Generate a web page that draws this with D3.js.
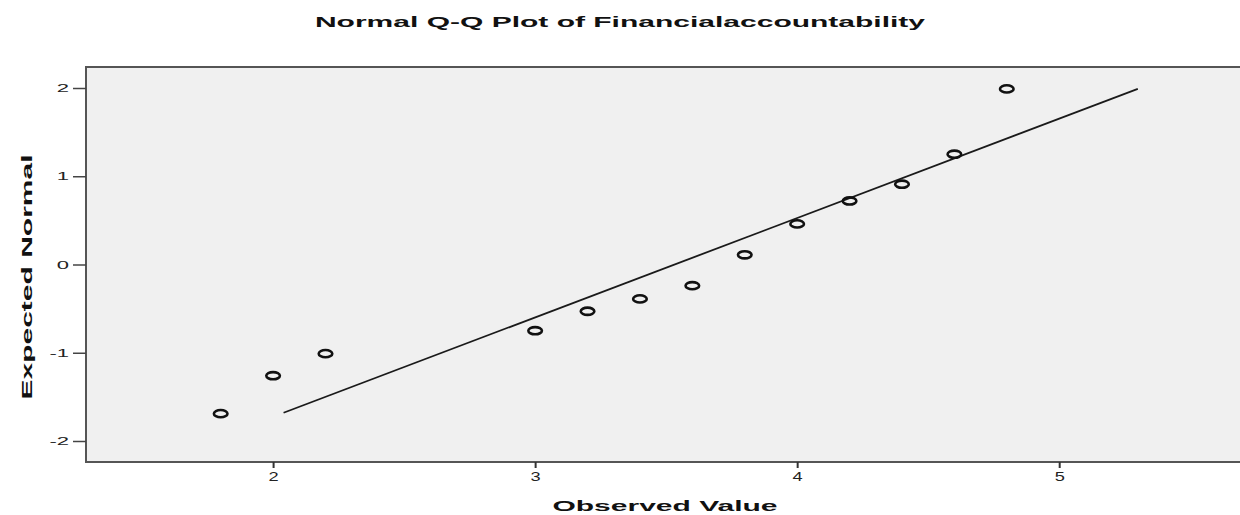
<!DOCTYPE html>
<html>
<head>
<meta charset="utf-8">
<script src="https://cdn.jsdelivr.net/npm/d3@7"></script>
<style>
  body { margin: 0; background: #fff; }
  svg { display: block; }
</style>
</head>
<body>
<div id="chart"></div>
<script>
// données
const observed = [1.8, 2.0, 2.2, 3.0, 3.2, 3.4, 3.6, 3.8, 4.0, 4.2, 4.4, 4.6, 4.8];
const expected = [-1.69, -1.26, -1.01, -0.75, -0.53, -0.39, -0.24, 0.11, 0.46, 0.72, 0.91, 1.25, 1.99];
const lineX = [2.04, 5.30];
const lineY = [-1.68, 1.99];
const xTicks = [2, 3, 4, 5];
const yTicks = [-2, -1, 0, 1, 2];

const width = 1240;
const height = 515;
const margin = { top: 67, right: 0, bottom: 53, left: 86 };

const svg = d3.select("#chart")
    .append("svg")
    .attr("width", width)
    .attr("height", height);

const x = d3.scaleLinear()
    .domain([1.286, 5.69])
    .range([margin.left, width - margin.right]);

const y = d3.scaleLinear()
    .domain([-2.238, 2.238])
    .range([height - margin.bottom, margin.top]);

// étire le texte dans le sens de la lecture (l'image d'origine est déformée)
function stretch(sel, k) {
    sel.each(function () {
        const w = this.getComputedTextLength();
        d3.select(this)
            .attr("textLength", w * k)
            .attr("lengthAdjust", "spacingAndGlyphs");
    });
}

// fond de la zone de tracé
svg.append("rect")
    .attr("x", margin.left)
    .attr("y", margin.top)
    .attr("width", width - margin.left + 10)
    .attr("height", height - margin.bottom - margin.top)
    .attr("fill", "#f0f0f0")
    .attr("stroke", "#555")
    .attr("stroke-width", 2);

// axe X
const gx = svg.append("g")
    .attr("transform", `translate(0,${height - margin.bottom})`)
    .call(d3.axisBottom(x).tickValues(xTicks).tickSize(6).tickPadding(4).tickFormat(d => String(d)));
gx.select(".domain").remove();
gx.selectAll("line").attr("stroke", "#333").attr("stroke-width", 2);
gx.selectAll("text")
    .attr("fill", "#222")
    .style("font-family", "'Liberation Sans', Arial, sans-serif")
    .style("font-size", "13px")
    .call(stretch, 1.4);

// axe Y
const gy = svg.append("g")
    .attr("transform", `translate(${margin.left},0)`)
    .call(d3.axisLeft(y).tickValues(yTicks).tickSize(13).tickPadding(4).tickFormat(d => String(d)));
gy.select(".domain").remove();
gy.selectAll("line").attr("stroke", "#444").attr("stroke-width", 1.5);
gy.selectAll("text")
    .attr("fill", "#222")
    .style("font-family", "'Liberation Sans', Arial, sans-serif")
    .style("font-size", "11px")
    .call(stretch, 2);

// droite de référence
svg.append("line")
    .attr("x1", x(lineX[0]))
    .attr("y1", y(lineY[0]))
    .attr("x2", x(lineX[1]))
    .attr("y2", y(lineY[1]))
    .attr("stroke", "#1a1a1a")
    .attr("stroke-width", 1.8);

// points
svg.selectAll("ellipse.pt")
    .data(observed)
    .join("ellipse")
    .attr("class", "pt")
    .attr("cx", d => x(d))
    .attr("cy", (d, i) => y(expected[i]))
    .attr("rx", 6.8)
    .attr("ry", 3.6)
    .attr("fill", "none")
    .attr("stroke", "#111")
    .attr("stroke-width", 2.6);

// titre
svg.append("text")
    .attr("x", width / 2)
    .attr("y", 27)
    .attr("text-anchor", "middle")
    .style("font-family", "'Liberation Sans', Arial, sans-serif")
    .style("font-size", "15px")
    .style("font-weight", "bold")
    .attr("fill", "#111")
    .text("Normal Q-Q Plot of Financialaccountability")
    .call(stretch, 2);

// titre de l'axe X
svg.append("text")
    .attr("x", 665)
    .attr("y", 511)
    .attr("text-anchor", "middle")
    .style("font-family", "'Liberation Sans', Arial, sans-serif")
    .style("font-size", "15px")
    .style("font-weight", "bold")
    .attr("fill", "#111")
    .text("Observed Value")
    .call(stretch, 2);

// titre de l'axe Y
svg.append("text")
    .attr("transform", "translate(32,277) rotate(-90)")
    .attr("text-anchor", "middle")
    .style("font-family", "'Liberation Sans', Arial, sans-serif")
    .style("font-size", "15px")
    .style("font-weight", "bold")
    .attr("fill", "#111")
    .text("Expected Normal")
    .call(stretch, 2);
</script>
</body>
</html>
